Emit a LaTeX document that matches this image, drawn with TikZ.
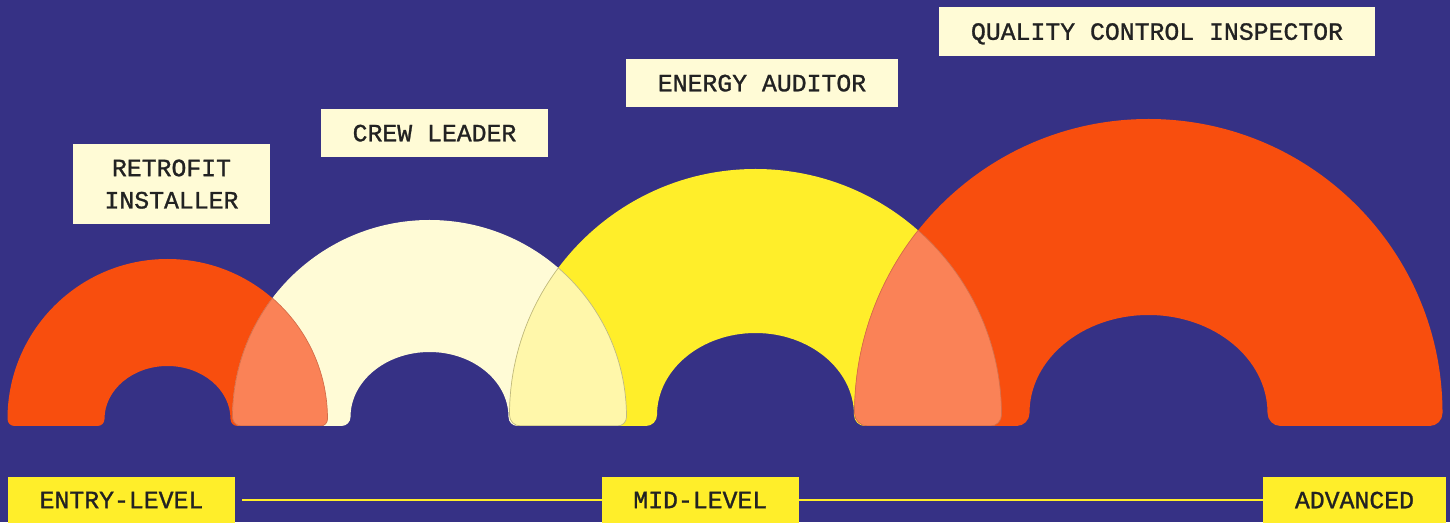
\documentclass[tikz,border=0pt]{standalone}
\usepackage{fontspec}
\newfontfamily\tagfont{Liberation Mono}[FakeBold=1.1]
\usetikzlibrary{positioning}

\definecolor{night}{RGB}{54,49,133}
\definecolor{flame}{RGB}{248,78,14}
\definecolor{cream}{RGB}{255,251,214}
\definecolor{sun}{RGB}{255,238,42}
\definecolor{salmon}{RGB}{250,130,87}
\definecolor{paleSun}{RGB}{255,247,170}
\definecolor{ink}{RGB}{34,34,34}

% half ring standing on the base line: centre x, outer radius, inner x/y radius, corner
\newcommand\archshape[5]{(#1-#2,96+#5) arc[start angle=180,end angle=0,radius=#2]
  arc[start angle=0,end angle=-90,radius=#5] -- (#1+#3+#5,96)
  arc[start angle=270,end angle=180,radius=#5]
  arc[start angle=0,end angle=180,x radius=#3,y radius=#4]
  arc[start angle=0,end angle=-90,radius=#5] -- (#1-#2+#5,96)
  arc[start angle=270,end angle=180,radius=#5] -- cycle}

\begin{document}
\begin{tikzpicture}[x=1pt,y=1pt,
  tag/.style={fill=cream,text=ink,font=\tagfont\fontsize{24.8}{32.3}\selectfont,
    align=center,inner sep=0pt,text depth=0pt,minimum height=48pt},
  level/.style={tag,fill=sun,minimum height=46pt},
  rail/.style={draw=sun,line width=2.2pt},
  seam/.style={draw=#1,line width=0.7pt}]
  \fill[night] (0,0) rectangle (1450,522);
  \useasboundingbox (0,0) rectangle (1450,522);

  % the four rings
  \fill[flame] \archshape{167.5}{160}{63}{53}{7};
  \fill[cream] \archshape{429.5}{197}{79}{65}{9};
  \fill[sun]   \archshape{755.5}{246}{98.5}{82}{11};
  \fill[flame] \archshape{1148.5}{294}{119}{98}{13};

  % overlaps
  \begin{scope}
    \clip \archshape{167.5}{160}{63}{53}{7};
    \fill[salmon] \archshape{429.5}{197}{79}{65}{9};
    \draw[seam=salmon!85!black] \archshape{429.5}{197}{79}{65}{9};
  \end{scope}
  \begin{scope}
    \clip \archshape{429.5}{197}{79}{65}{9};
    \draw[seam=salmon!85!black] \archshape{167.5}{160}{63}{53}{7};
  \end{scope}
  \begin{scope}
    \clip \archshape{429.5}{197}{79}{65}{9};
    \fill[paleSun] \archshape{755.5}{246}{98.5}{82}{11};
    \draw[seam=paleSun!75!black] \archshape{755.5}{246}{98.5}{82}{11};
  \end{scope}
  \begin{scope}
    \clip \archshape{755.5}{246}{98.5}{82}{11};
    \draw[seam=paleSun!75!black] \archshape{429.5}{197}{79}{65}{9};
  \end{scope}
  \begin{scope}
    \clip \archshape{755.5}{246}{98.5}{82}{11};
    \fill[salmon] \archshape{1148.5}{294}{119}{98}{13};
    \draw[seam=salmon!85!black] \archshape{1148.5}{294}{119}{98}{13};
  \end{scope}
  \begin{scope}
    \clip \archshape{1148.5}{294}{119}{98}{13};
    \draw[seam=salmon!85!black] \archshape{755.5}{246}{98.5}{82}{11};
  \end{scope}

  % job titles
  \node[tag,minimum width=197pt,minimum height=80pt] (retrofit) at (171.5,338) {RETROFIT\\INSTALLER};
  \node[tag,minimum width=227pt] (crew) at (434.5,389) {CREW LEADER};
  \node[tag,minimum width=272pt] (auditor) at (762,439) {ENERGY AUDITOR};
  \node[tag,minimum width=436pt,minimum height=49pt] (inspector) at (1157,490.5) {QUALITY CONTROL INSPECTOR};

  % levels
  \node[level,minimum width=227pt] (entry) at (121.5,22) {ENTRY-LEVEL};
  \node[level,minimum width=197pt] (mid) at (700.3,22) {MID-LEVEL};
  \node[level,minimum width=183pt] (adv) at (1354.5,22) {ADVANCED};
  \draw[rail,shorten <=7pt] (entry) -- (mid);
  \draw[rail] (mid) -- (adv);
\end{tikzpicture}
\end{document}
